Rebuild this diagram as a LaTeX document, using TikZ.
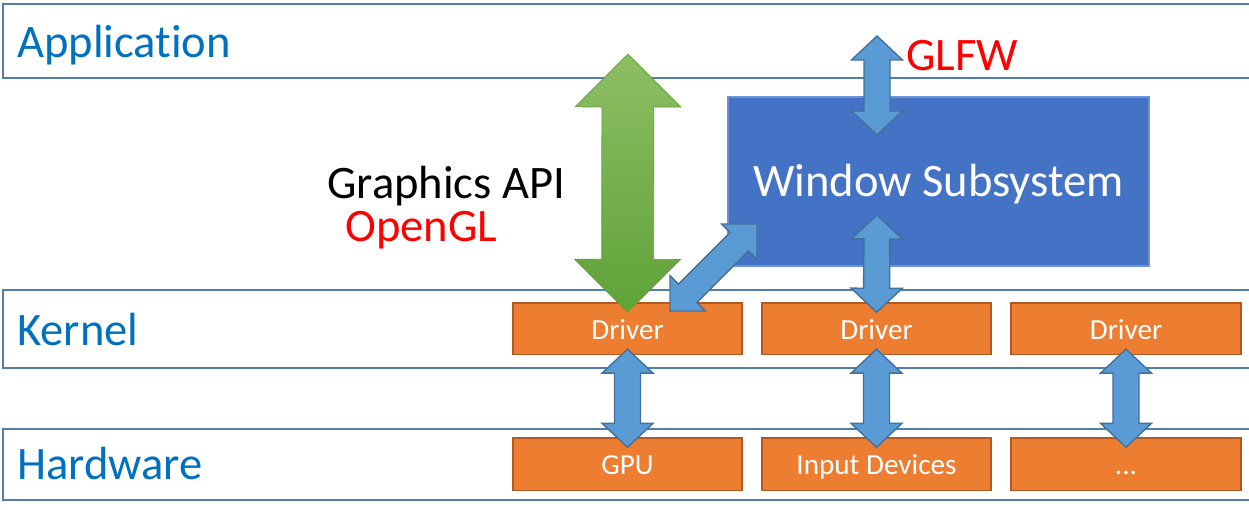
\documentclass[tikz,border=0pt]{standalone}
\usepackage{fontspec}
\setmainfont{Carlito}[Ligatures={NoCommon}]
\usetikzlibrary{calc,fit}
\definecolor{layerline}{RGB}{84,126,170}
\definecolor{labelblue}{RGB}{0,112,192}
\definecolor{orangefill}{RGB}{237,125,49}
\definecolor{orangeline}{RGB}{174,90,33}
\definecolor{arrblue}{RGB}{91,155,213}
\definecolor{arrblueline}{RGB}{65,113,156}
\definecolor{winblue}{RGB}{68,114,196}
\definecolor{winline}{RGB}{110,145,215}
\definecolor{greentop}{RGB}{140,190,100}
\definecolor{greenbot}{RGB}{96,162,56}
\definecolor{redtext}{RGB}{255,0,0}
% double block arrow: #1 style, #2 from, #3 to, #4 shaft half width, #5 head half width, #6 head length
\newcommand\dblarrow[6]{%
  \path[#1] (#2) -- ($(#2)!#6!(#3)!#5!90:(#3)$) -- ($(#2)!#6!(#3)!#4!90:(#3)$)
    -- ($(#3)!#6!(#2)!#4!-90:(#2)$) -- ($(#3)!#6!(#2)!#5!-90:(#2)$) -- (#3)
    -- ($(#3)!#6!(#2)!#5!90:(#2)$) -- ($(#3)!#6!(#2)!#4!90:(#2)$)
    -- ($(#2)!#6!(#3)!#4!-90:(#3)$) -- ($(#2)!#6!(#3)!#5!-90:(#3)$) -- cycle;}
\begin{document}
\begin{tikzpicture}[x=0.02cm,y=-0.02cm,
  layerbox/.style={draw=layerline, line width=1.2pt, inner sep=0pt},
  layerlabel/.style={anchor=base west, inner sep=0pt, text=labelblue, font=\fontsize{26.5}{30}\selectfont},
  orangebox/.style={draw=orangeline, fill=orangefill, line width=0.8pt, inner sep=0pt},
  orangetext/.style={anchor=base, inner sep=0pt, text=white, font=\fontsize{16.6}{19}\selectfont},
  winbox/.style={draw=winline, fill=winblue, line width=0.6pt, inner sep=0pt},
  wintext/.style={anchor=base, inner sep=0pt, text=white, font=\fontsize{26.5}{30}\selectfont},
  bigtext/.style={anchor=base west, inner sep=0pt, font=\fontsize{26.5}{30}\selectfont},
  bluearr/.style={fill=arrblue, draw=arrblueline, line width=0.8pt, line join=miter},
  greenarr/.style={top color=greentop, bottom color=greenbot, draw=greenbot, line width=0.4pt, line join=miter}]
\useasboundingbox (0,0) rectangle (1249,510);
\clip (0,0) rectangle (1249,510);
% layers
\node[layerbox, fit={(3,4) (1262,78)}] (app) {};
\node[layerbox, fit={(3,290) (1262,368)}] (kern) {};
\node[layerbox, fit={(3,429) (1262,500)}] (hw) {};
\node[layerlabel] (applbl) at (17,57.5) {Application};
\node[layerlabel] (kernlbl) at (17,345) {Kernel};
\node[layerlabel] (hwlbl) at (17,479.5) {Hardware};
% kernel drivers
\node[orangebox, fit={(513,303) (742,354.5)}] (drv1) {};
\node[orangebox, fit={(762,303) (991,354.5)}] (drv2) {};
\node[orangebox, fit={(1011,303) (1241,354.5)}] (drv3) {};
\node[orangetext] (drv1t) at ($(drv1.center)+(0,10.3)$) {Driver};
\node[orangetext] (drv2t) at ($(drv2.center)+(0,10.3)$) {Driver};
\node[orangetext] (drv3t) at ($(drv3.center)+(0,10.3)$) {Driver};
% hardware
\node[orangebox, fit={(513,438) (742,490.5)}] (gpu) {};
\node[orangebox, fit={(762,438) (991,490.5)}] (inp) {};
\node[orangebox, fit={(1011,438) (1241,490.5)}] (etc) {};
\node[orangetext] (gput) at ($(gpu.center)+(0,10.2)$) {GPU};
\node[orangetext] (inpt) at ($(inp.center)+(0,10.2)$) {Input Devices};
\node[orangetext] (etct) at ($(etc.center)+(0,10.2)$) {...};
% window subsystem
\node[winbox, fit={(728,97) (1149,266)}] (win) {};
\node[wintext] (wint) at ($(win.center)+(0,15.2)$) {Window Subsystem};
% texts
\node[bigtext] (gapi) at (327,198.3) {Graphics API};
\node[bigtext, text=redtext] (ogl) at (345,241) {OpenGL};
\node[bigtext, text=redtext] (glfw) at (906,71) {GLFW};
% arrow end points
\coordinate (gA) at (628,54);
\coordinate (gB) at ($(drv1.north)+(0,10)$);
\coordinate (fA) at (877,36);
\coordinate (fB) at (877,135);
\coordinate (wA) at (877,215);
\coordinate (wB) at ($(drv2.north)+(0,10)$);
\coordinate (dA) at (670,311);
\coordinate (dB) at (757,224);
\coordinate (k1) at ($(drv1.south)+(0,-6)$);
\coordinate (h1) at ($(gpu.north)+(0,10)$);
\coordinate (k2) at ($(drv2.south)+(0,-6)$);
\coordinate (h2) at ($(inp.north)+(0,10)$);
\coordinate (k3) at ($(drv3.south)+(0,-6)$);
\coordinate (h3) at ($(etc.north)+(0,10)$);
% arrows
\dblarrow{greenarr}{gA}{gB}{0.52cm}{1.06cm}{1.06cm}
\dblarrow{bluearr}{fA}{fB}{0.26cm}{0.51cm}{0.48cm}
\dblarrow{bluearr}{wA}{wB}{0.26cm}{0.51cm}{0.48cm}
\dblarrow{bluearr}{dA}{dB}{0.26cm}{0.5cm}{0.5cm}
\dblarrow{bluearr}{k1}{h1}{0.26cm}{0.51cm}{0.48cm}
\dblarrow{bluearr}{k2}{h2}{0.26cm}{0.51cm}{0.48cm}
\dblarrow{bluearr}{k3}{h3}{0.26cm}{0.51cm}{0.48cm}
\end{tikzpicture}
\end{document}
